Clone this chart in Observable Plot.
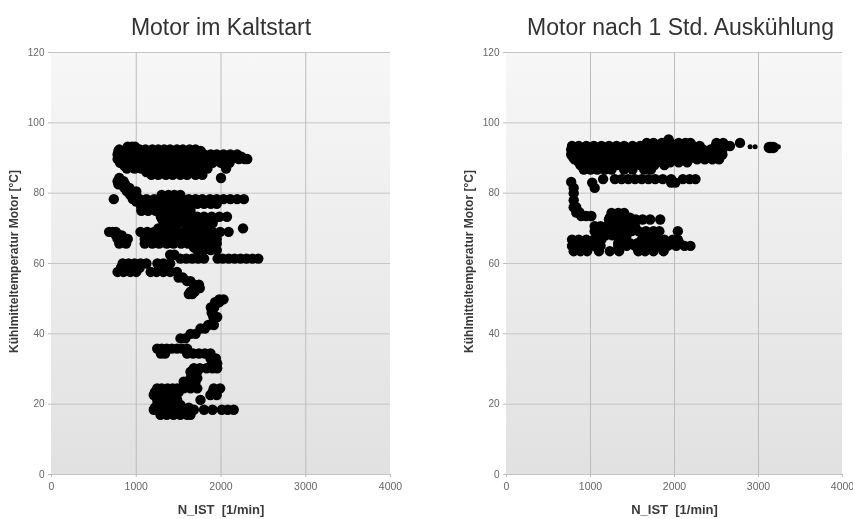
<!DOCTYPE html>
<html><head><meta charset="utf-8">
<script src="https://cdn.jsdelivr.net/npm/d3@7"></script>
<script src="https://cdn.jsdelivr.net/npm/@observablehq/plot@0.6"></script>
<style>
html,body{margin:0;padding:0;background:#fff;overflow:hidden}
#wrap{display:flex;width:853px;height:519px;filter:blur(.6px)}
svg{display:block;flex:none}
</style></head><body><div id="wrap"></div>
<script>
const xTicks = [0,1000,2000,3000,4000];
const yTicks = [0,20,40,60,80,100,120];
const xLabel = "N_IST  [1/min]";
const yLabel = "Kühlmitteltemperatur Motor [°C]";
const titleLeft = "Motor im Kaltstart";
const titleRight = "Motor nach 1 Std. Auskühlung";

// [temperature, [speeds]]
const kaltstart = [
[93.2,[900,950,985]],
[92.4,[800,880,960,1040,1110,1190,1260,1330,1400,1480,1550,1630,1700]],
[92,[790,860,930,1000,1070,1150,1220,1290,1360,1440,1510,1590,1660,1730,1760]],
[91,[780,850,930,1010,1080,1170,1250,1330,1410,1490,1570,1650,1730,1800,1880,1950,2030,2110,2190]],
[90.4,[800,890,970,1050,1130,1210,1290,1370,1450,1530,1610,1690,1770,1840,1920,2000,2080,2160,2240]],
[89.7,[780,860,950,1030,1120,1200,1290,1370,1460,1540,1620,1700,1790,1870,1960,2040,2120,2210,2280,2310]],
[88.6,[810,900,980,1070,1160,1240,1320,1410,1500,1590,1670,1750,1840,1900,2000,2100]],
[87.8,[860,940,1020,1110,1200,1280,1360,1450,1540,1630,1710,1790]],
[87,[890,980,1060,1150,1230,1310,1400,1490,1570,1650,1740,1840,2060]],
[86,[1120,1200,1290,1380,1470,1550,1640,1730]],
[85.2,[1180,1260,1350,1430,1520,1600,1700,1780]],
[84.3,[800,2000]],[83.4,[780,850]],[83,[830]],[82.5,[790,870]],[81.5,[860,920]],[80.5,[890,950,1000]],[79.5,[930,1000,1300,1380,1450,1520]],
[78.3,[735,960,1040,1120,1210,1290,1370,1450,1530,1620,1700,1780,1870,1950,2030,2110,2190,2270]],
[77.6,[1000,1090,1180,1260,1340,1430,1520,1600,1680,1760]],
[77,[1060,1140,1220,1310,1390,1470,1550,1640,1720,1800,1880,1950]],
[76,[1060,1130,1210,1300,1390,1480,1560]],
[75,[1060,1140,1230,1320,1400,1490,1570,1640]],
[73.3,[1290,1380,1460,1550,1630,1720,1800,1890,1980,2070]],
[72.4,[1310,1400,1480,1570,1650,1730,1820,1910]],
[71.4,[1330,1420,1500,1590,1670,1750,1830,1900]],
[70,[1260,1350,1430,1610,1700,1780,1840,2260]],
[69,[680,720,760,1050,1130,1210,1290,1390,1470,1560,1640,1730,1810,1900,1990,2090]],
[68,[760,800,830]],
[67,[780,840,900,1100,1180,1260,1340,1430,1510,1590,1680,1760,1850,1950]],
[65.7,[800,880,1100,1190,1270,1360,1440,1530,1610,1700,1790,1870,1950]],
[64.6,[1680,1760,1850,1930]],
[63.8,[1720,1800,1880,1950]],
[62.5,[1400,1450]],
[61.4,[1520,1590,1660,1730,1800,1960,2020,2090,2160,2230,2300,2370,2440]],
[60,[840,910,980,1050,1120,1250,1320,1400]],
[58.8,[820,890,970,1040]],
[57.6,[780,850,930,1000,1170,1240,1320,1400,1480]],
[56,[1500,1550]],[55,[1600,1640]],[54,[1680,1740]],[53,[1750]],[52,[1640,1690]],[51.3,[1620,1660]],
[49.8,[1980,2030]],[49,[1930,1980]],[47.5,[1880,1920]],[46,[1890]],[44.8,[1955,1910]],
[42.5,[1915,1850]],[41.5,[1758,1810]],[40,[1640,1700]],[38.7,[1522,1580]],
[35.8,[1247,1300,1360,1420,1480,1540,1600]],
[34.4,[1290,1340,1600,1670,1740,1810,1876]],
[33,[1876,1940]],[31.6,[1955,1900]],
[30.2,[1680,1750,1830,1900,1955]],
[29.2,[1640,1720]],[27.4,[1640,1720]],[26.4,[1560,1640,1700]],
[24.5,[1247,1300,1370,1430,1483,1560,1640,1720,1915,1990]],
[23.4,[1220,1290,1360,1430,1500,1900]],
[22.6,[1207,1270,1340,1420,1875,1950]],
[21.2,[1247,1310,1380,1483,1758]],
[19.8,[1247,1320,1400,1470,1522]],
[19,[1220,1300,1380,1460,1540,1620]],
[18.4,[1207,1280,1360,1440,1520,1600,1680,1800,1900,2010,2080,2150]],
[17,[1286,1360,1440,1520,1600,1640]]
];

const ausgekuehlt = [
[95.3,[1930]],
[94.3,[1670,1750,1850,1950,2050,2130,2190,2500,2580,2780]],
[93.4,[780,860,950,1040,1130,1220,1310,1400,1500,1590,1680,1770,1860,1950,2040,2130,2220,2300,2490,2660]],
[92.4,[770,860,950,1040,1140,1230,1320,1420,1510,1600,1700,1790,1880,1970,2060,2160,2250,2340,2430,2520,2570]],
[91.7,[810,900,990,1090,1180,1270,1370,1460,1550,1650,1740,1830,1920,2010,2110,2200,2290]],
[91,[770,850,940,1040,1130,1230,1320,1410,1500,1600,1690,1790,1880,1970,2060,2160,2250,2340,2430,2530,2570]],
[90.3,[790,870,960,1060,1150,1250,1340,1430,1520,1620,1710,1810,1900,1990,2080,2180,2270,2360,2450]],
[89.6,[810,890,980,1070,1160,1260,1350,1440,1530,1620,1710,1810,1900,1990,2080,2170,2270,2360,2450,2530]],
[88.8,[860,950,1040,1130,1220,1310,1400,1490,1580,1670,1760,1850,1950,2050,2150]],
[88,[880,960,1050,1140,1230,1320,1410,1500,1590,1670,1760,1880]],
[86.7,[920,1000,1080,1170,1250,1400,1500,1640,1720]],
[84,[1150,1290,1370,1450,1530,1610,1690,1770,1860,1960,2100,2180,2250]],
[83,[1020,1960,2010]],
[83.2,[770]],[81.5,[800,1050]],[80,[800]],[78,[800]],[76,[800,830]],[74.5,[830,870]],[73.5,[890,950,1010]],
[74.4,[1250,1330,1400]],
[73,[1230,1310,1390,1470]],
[72.5,[1220,1290,1370,1460,1540,1620,1710,1830]],
[70.6,[1050,1120,1200,1290,1370,1450,1530]],
[69.2,[1050,1130,1220,1310,1400,1490,1570,1660,1750,1820,2040]],
[68,[1090,1180,1260,1340,1430,1660,1750]],
[66.8,[780,860,950,1040,1130,1390,1610,1700,1790,1880,1980,2040]],
[65.8,[800,890,980,1070,1330,1470,1560,1660,1760,1860,1950,2060]],
[65,[780,860,940,1040,1120,1330,1430,1530,1640,1730,1830,1920,2020,2120,2190]],
[63.5,[800,880,960,1100,1230,1340,1570,1650,1750,1870]]
];
const ausgekuehltLarge = [[93,[3130,3150,3175]]];
const ausgekuehltSmall = [[93.2,[2900,2960,3237]]];

const flat = rows => rows.flatMap(([t, xs]) => xs.map(n => ({n, t})));

function panel({rows, large = [], small = [], title, width, marginLeft, marginRight, titleDx, gid}) {
  const defs = () => {
    const s = d3.create("svg:defs");
    const g = s.append("linearGradient").attr("id", gid).attr("x1", 0).attr("y1", 0).attr("x2", 0).attr("y2", 1);
    g.append("stop").attr("offset", "0%").attr("stop-color", "#f7f7f7");
    g.append("stop").attr("offset", "100%").attr("stop-color", "#e1e1e1");
    return s.node();
  };
  return Plot.plot({
    width, height: 519, marginLeft, marginRight, marginTop: 52, marginBottom: 45,
    style: {background: "transparent", fontFamily: "'Liberation Sans',Arial,sans-serif"},
    x: {domain: [0, 4000]}, y: {domain: [0, 120]},
    marks: [
      defs,
      Plot.rect([0], {x1: () => 0, x2: () => 4000, y1: () => 0, y2: () => 120, fill: `url(#${gid})`}),
      Plot.gridY(yTicks, {stroke: "#c6c6c6", strokeOpacity: 1, strokeWidth: 1}),
      Plot.gridX(xTicks.slice(1, 4), {stroke: "#bcbcbc", strokeOpacity: 1, strokeWidth: 1}),
      Plot.axisX({ticks: xTicks, tickSize: 3, tickPadding: 5, fontSize: 10.5, color: "#666", stroke: "#bbb", label: null, tickFormat: d => String(d)}),
      Plot.axisY({ticks: yTicks, tickSize: 3, tickPadding: 4, fontSize: 10, color: "#666", stroke: "#bbb", label: null, tickFormat: d => String(d)}),
      Plot.text([xLabel], {frameAnchor: "bottom", lineAnchor: "middle", dy: 35, text: d => d, fontSize: 13, fontWeight: "bold", fill: "#3a3a3a"}),
      Plot.text([yLabel], {frameAnchor: "left", textAnchor: "middle", dx: -37, dy: -2, rotate: -90, text: d => d, fontSize: 12, fontWeight: "bold", fill: "#3a3a3a"}),
      Plot.text([title], {frameAnchor: "top", lineAnchor: "middle", dx: titleDx, dy: -25, text: d => d, fontSize: 23, fill: "#333"}),
      Plot.dot(flat(rows), {x: "n", y: "t", r: 5.2, fill: "#000"}),
      Plot.dot(flat(large), {x: "n", y: "t", r: 5.8, fill: "#000"}),
      Plot.dot(flat(small), {x: "n", y: "t", r: 2.5, fill: "#000"})
    ]
  });
}

const wrap = document.getElementById("wrap");
wrap.append(panel({rows: kaltstart, title: titleLeft, width: 426, marginLeft: 51, marginRight: 36, titleDx: 0, gid: "g1"}));
wrap.append(panel({rows: ausgekuehlt, large: ausgekuehltLarge, small: ausgekuehltSmall, title: titleRight, width: 427, marginLeft: 80, marginRight: 11, titleDx: 6, gid: "g2"}));
</script></body></html>
